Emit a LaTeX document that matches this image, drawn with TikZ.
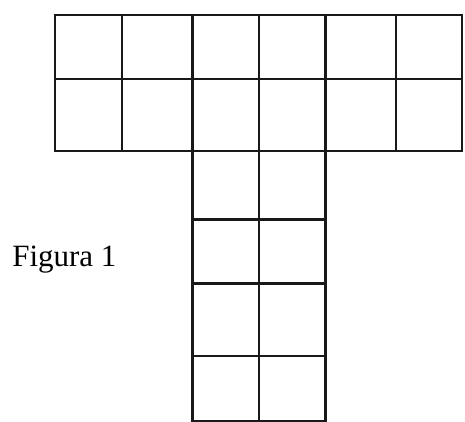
\documentclass[tikz,border=0pt]{standalone}
\usepackage{fontspec}
\setmainfont{Liberation Serif}

\begin{document}
\begin{tikzpicture}[x = 1pt, y = 1pt, line width = 2.6pt, grid line/.style = {draw = black!90}]

	% Definitions

	\def\top{407}		% Horizontal lines of the bar
	\def\mid{343}
	\def\bot{271}

	\def\sl{192.5}		% Stem columns
	\def\sm{259}
	\def\sr{325.5}

	\useasboundingbox (0, 0) rectangle (465, 422);

	% Draw bar

	\foreach \y in {\top, \mid, \bot}
		\draw [grid line] (53.7, \y) -- (463.3, \y);

	\foreach \x in {55, 122, 192.5, 259, 325.5, 396, 462}
		\draw [grid line] (\x, \top) -- (\x, \bot);

	% Draw stem

	\foreach \x in {\sl, \sm, \sr}
		\draw [grid line] (\x, \bot) -- (\x, 0);

	\foreach \y in {202.5, 138.5, 66, 0.3}
		\draw [grid line] (\sl, \y) -- (\sr, \y);

	% Draw label

	\node (label) [anchor = base west, inner sep = 0pt, font = \fontsize{31}{36}\selectfont] at (11, 155) {Figura 1};

\end{tikzpicture}
\end{document}
